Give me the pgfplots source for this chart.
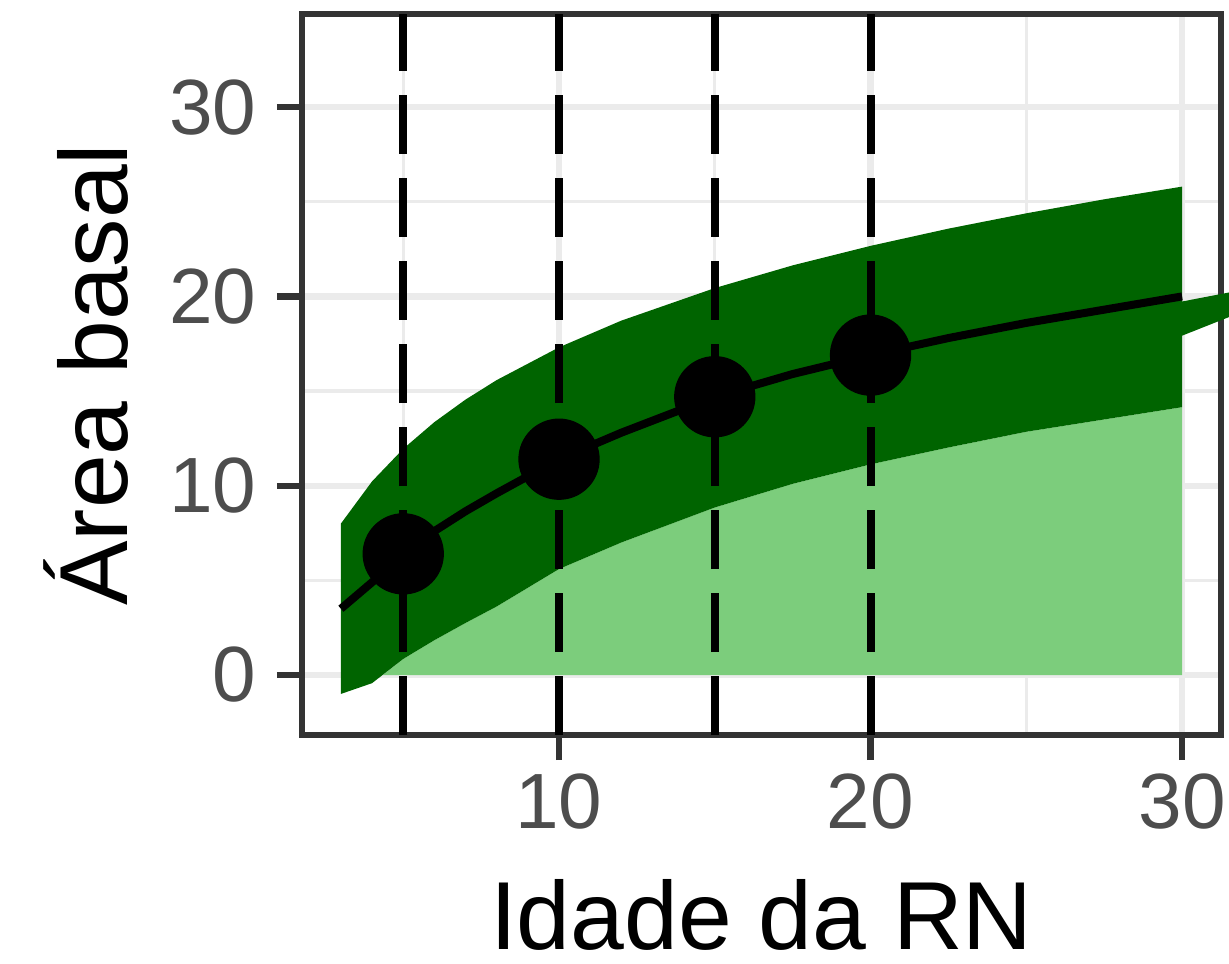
\documentclass[border=0pt]{standalone}
\usepackage{pgfplots}
\pgfplotsset{compat=1.18}
\usepackage{pgfplotstable}
\usepackage{fontspec}
\setmainfont{Liberation Sans}
\definecolor{dkgreen}{HTML}{006400}
\definecolor{ltgreen}{HTML}{7CCD7C}
\definecolor{grid92}{HTML}{EBEBEB}
\definecolor{grey20}{HTML}{333333}
\definecolor{grey30}{HTML}{4D4D4D}

\pgfplotstableread{
x mean
3 3.5
4 4.9
5 6.4
6 7.6
7 8.65
8 9.6
10 11.4
12 12.8
15 14.7
17.5 15.9
20 16.9
22.5 17.8
25 18.6
27.5 19.3
30 20.0
}\meantab

\begin{document}
\begin{tikzpicture}
\path[use as bounding box] (-90.6pt,-68.4pt) rectangle (278.1pt,220.5pt);
\begin{axis}[
 anchor=south west, at={(0pt,0pt)},
 scale only axis, width=275.7pt, height=216.3pt,
 xmin=1.75, xmax=31.25, ymin=-3.17, ymax=34.92,
 xtick={10,20,30}, ytick={0,10,20,30},
 minor xtick={5,15,25}, minor ytick={5,15,25},
 grid=both,
 major grid style={grid92, line width=1.9pt},
 minor grid style={grid92, line width=0.95pt},
 axis line style={grey20, line width=1.9pt},
 tick align=outside, major tick length=7.5pt, minor tick length=0pt,
 tick style={grey20, line width=1.9pt},
 xtick pos=bottom, ytick pos=left,
 tick label style={font=\fontsize{23.5}{28}\selectfont, text=grey30},
 /pgf/number format/assume math mode=true,
 xticklabel style={anchor=north, inner sep=0pt, yshift=-4pt},
 yticklabel style={anchor=east, inner sep=0pt, xshift=-6pt},
 xlabel={Idade da RN}, ylabel={Área basal},
 label style={font=\fontsize{29}{34}\selectfont, text=black},
 xlabel style={at={(axis description cs:0.5,-0.297)}, anchor=base},
 ylabel style={at={(axis description cs:-0.1904,0.5)}, anchor=base, rotate=0},
 clip=false,
]
% light green ribbon (0 to lower bound)
\addplot[fill=ltgreen, draw=none] coordinates {
 (4.35,0) (5,0.85) (6,1.84) (7,2.75) (8,3.62) (10,5.6) (12,7.0) (15,8.85)
 (17.5,10.1) (20,11.13) (22.5,12.02) (25,12.85) (27.5,13.5) (30,14.15) (30,0)
};
% dark green ribbon
\addplot[fill=dkgreen, draw=none] coordinates {
 (3,8.00) (4,10.23) (5,11.95) (6,13.36) (7,14.55) (8,15.58) (10,17.31) (12,18.72)
 (15,20.44) (17.5,21.64) (20,22.67) (22.5,23.58) (25,24.39) (27.5,25.13) (30,25.80)
 (30,14.15) (27.5,13.5) (25,12.85) (22.5,12.02) (20,11.13) (17.5,10.1) (15,8.85)
 (12,7.0) (10,5.6) (8,3.62) (7,2.75) (6,1.84) (5,0.85) (4,-0.43) (3,-1.0)
};
% green connector leaving the panel
\addplot[fill=dkgreen, draw=none] coordinates {
 (29.9,19.7) (31.8,20.3) (31.8,19.1) (29.9,17.86)
};
% vertical dashed lines
\addplot[black, line width=2.4pt, dash pattern=on 17.7pt off 7.2pt] coordinates {(5,-3.17) (5,34.92)};
\addplot[black, line width=2.4pt, dash pattern=on 17.7pt off 7.2pt] coordinates {(10,-3.17) (10,34.92)};
\addplot[black, line width=2.4pt, dash pattern=on 17.7pt off 7.2pt] coordinates {(15,-3.17) (15,34.92)};
\addplot[black, line width=2.4pt, dash pattern=on 17.7pt off 7.2pt] coordinates {(20,-3.17) (20,34.92)};
% mean line
\addplot[black, line width=2.4pt] table[x=x, y=mean] {\meantab};
% points
\addplot[only marks, mark=*, mark size=12pt, black] coordinates {(5,6.4) (10,11.4) (15,14.7) (20,16.9)};
\end{axis}
\end{tikzpicture}
\end{document}
